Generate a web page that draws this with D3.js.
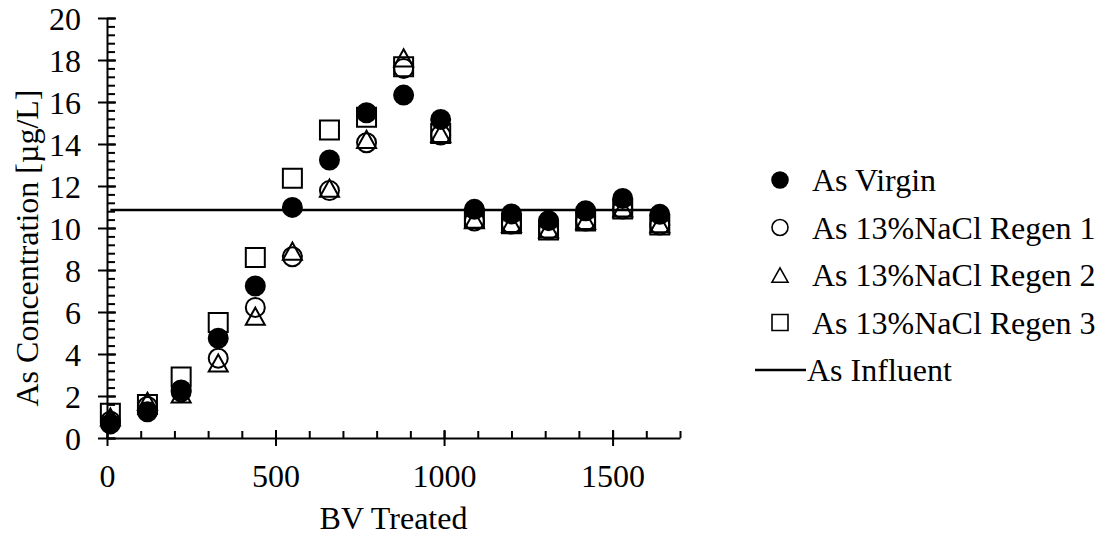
<!DOCTYPE html>
<html>
<head>
<meta charset="utf-8">
<script src="https://cdn.jsdelivr.net/npm/d3@7"></script>
<style>
  html, body { margin: 0; padding: 0; background: #fff; }
  svg text { font-family: "Liberation Serif", "Times New Roman", serif; fill: #000; }
</style>
</head>
<body>
<svg id="chart" width="1101" height="537"></svg>
<script>
// Bed volumes treated at each sampling point
const bvTreated = [10, 120, 220, 330, 440, 550, 660, 770, 880, 990, 1090, 1200, 1310, 1420, 1530, 1640];

// Arsenic concentration in effluent (µg/L)
const asVirgin = [0.67, 1.25, 2.29, 4.75, 7.24, 10.98, 13.24, 15.49, 16.33, 15.17, 10.89, 10.67, 10.35, 10.82, 11.41, 10.65];
const asRegen1 = [0.8, 1.5, 2.2, 3.8, 6.22, 8.63, 11.78, 14.06, 17.6, 14.43, 10.33, 10.19, 9.92, 10.33, 10.9, 10.14];
const asRegen2 = [1.0, 1.75, 2.1, 3.57, 5.8, 8.9, 11.9, 14.22, 18.1, 14.5, 10.4, 10.22, 9.96, 10.36, 10.95, 10.2];
const asRegen3 = [1.18, 1.6, 2.9, 5.5, 8.59, 12.37, 14.67, 15.27, 17.68, 14.5, 10.46, 10.2, 9.9, 10.33, 10.9, 10.14];
const asInfluent = 10.86;

// Axis ticks
const xMajorTicks = [0, 500, 1000, 1500];
const yMajorTicks = [0, 2, 4, 6, 8, 10, 12, 14, 16, 18, 20];

const seriesNames = ["As Virgin", "As 13%NaCl Regen 1", "As 13%NaCl Regen 2", "As 13%NaCl Regen 3", "As Influent"];

const svg = d3.select("#chart");
const fontSize = 32;

const x = d3.scaleLinear().domain([0, 1700]).range([107, 680]);
const y = d3.scaleLinear().domain([0, 20]).range([438, 18]);

const xMinor = d3.range(0, 1701, 100);
const yMinor = d3.range(0, 20.001, 0.4).map(v => +v.toFixed(1));

// ---- x axis ----
const gx = svg.append("g").attr("transform", `translate(0,${y(0)})`);
gx.call(d3.axisBottom(x).tickValues(xMinor).tickSizeInner(-7).tickSizeOuter(0).tickFormat(""));
gx.selectAll(".tick line").attr("stroke", "#000").attr("stroke-width", 2);
gx.select(".domain").attr("stroke", "#000").attr("stroke-width", 2);
const gxMaj = svg.append("g").attr("transform", `translate(0,${y(0)})`);
gxMaj.call(d3.axisBottom(x).tickValues(xMajorTicks).tickSizeOuter(0).tickFormat(d3.format("d")));
gxMaj.select(".domain").remove();
gxMaj.selectAll(".tick line").attr("y1", -8).attr("y2", 8).attr("stroke", "#000").attr("stroke-width", 2);
gxMaj.selectAll(".tick text").attr("y", 49).attr("dy", null).attr("font-size", fontSize);

// ---- y axis ----
const gy = svg.append("g").attr("transform", `translate(${x(0)},0)`);
gy.call(d3.axisLeft(y).tickValues(yMinor).tickSizeInner(-8).tickSizeOuter(0).tickFormat(""));
gy.selectAll(".tick line").attr("stroke", "#000").attr("stroke-width", 2);
gy.select(".domain").attr("stroke", "#000").attr("stroke-width", 2);
const gyMaj = svg.append("g").attr("transform", `translate(${x(0)},0)`);
gyMaj.call(d3.axisLeft(y).tickValues(yMajorTicks).tickSizeOuter(0).tickFormat(d3.format("d")));
gyMaj.select(".domain").remove();
gyMaj.selectAll(".tick line").attr("x1", -9).attr("x2", 9).attr("stroke", "#000").attr("stroke-width", 2);
gyMaj.selectAll(".tick text").attr("x", -26).attr("dy", "0.35em").attr("font-size", fontSize);

// ---- axis titles ----
svg.append("text")
  .attr("x", (x(0) + x(1700)) / 2)
  .attr("y", 529)
  .attr("text-anchor", "middle")
  .attr("font-size", fontSize)
  .text("BV Treated");

svg.append("text")
  .attr("transform", `translate(38,248) rotate(-90)`)
  .attr("text-anchor", "middle")
  .attr("font-size", fontSize)
  .text("As Concentration [µg/L]");

// ---- marker shapes ----
function markerPath(kind, s) {
  const h = s / 2;
  if (kind === "triangle") {
    const th = s * 0.9;
    return `M0,${-th / 2}L${h},${th / 2}L${-h},${th / 2}Z`;
  }
  if (kind === "square") {
    return `M${-h},${-h}H${h}V${h}H${-h}Z`;
  }
  return `M${h},0A${h},${h} 0 1,1 ${-h},0A${h},${h} 0 1,1 ${h},0Z`;
}

const series = [
  { name: seriesNames[1], values: asRegen1, kind: "circle", fill: "none" },
  { name: seriesNames[2], values: asRegen2, kind: "triangle", fill: "none" },
  { name: seriesNames[3], values: asRegen3, kind: "square", fill: "none" },
  { name: seriesNames[0], values: asVirgin, kind: "circle", fill: "#000" }
];

// ---- influent line ----
const influentLine = d3.line().x(d => x(d)).y(() => y(asInfluent));
svg.append("path")
  .attr("d", influentLine([bvTreated[0], bvTreated[bvTreated.length - 1]]))
  .attr("fill", "none")
  .attr("stroke", "#000")
  .attr("stroke-width", 2.5);

// ---- scatter markers ----
const markerSize = 19;
series.forEach(s => {
  svg.append("g").selectAll("path")
    .data(s.values.map((v, i) => [bvTreated[i], v]))
    .join("path")
    .attr("transform", d => `translate(${x(d[0])},${y(d[1])})`)
    .attr("d", markerPath(s.kind, markerSize))
    .attr("fill", s.fill)
    .attr("stroke", "#000")
    .attr("stroke-width", 2);
});

// ---- legend ----
const legendRows = [
  { name: seriesNames[0], kind: "circle", fill: "#000" },
  { name: seriesNames[1], kind: "circle", fill: "none" },
  { name: seriesNames[2], kind: "triangle", fill: "none" },
  { name: seriesNames[3], kind: "square", fill: "none" },
  { name: seriesNames[4], kind: "line" }
];
const legend = svg.append("g");
legendRows.forEach((r, i) => {
  const cy = 180 + i * 47.5;
  if (r.kind === "line") {
    legend.append("line")
      .attr("x1", 755).attr("x2", 806)
      .attr("y1", cy).attr("y2", cy)
      .attr("stroke", "#000").attr("stroke-width", 2.5);
    legend.append("text")
      .attr("x", 807).attr("y", cy).attr("dy", "0.35em")
      .attr("font-size", fontSize).text(r.name);
  } else {
    legend.append("path")
      .attr("transform", `translate(780,${cy})`)
      .attr("d", markerPath(r.kind, 16))
      .attr("fill", r.fill)
      .attr("stroke", "#000")
      .attr("stroke-width", 1.6);
    legend.append("text")
      .attr("x", 812).attr("y", cy).attr("dy", "0.35em")
      .attr("font-size", fontSize).text(r.name);
  }
});
</script>
</body>
</html>
